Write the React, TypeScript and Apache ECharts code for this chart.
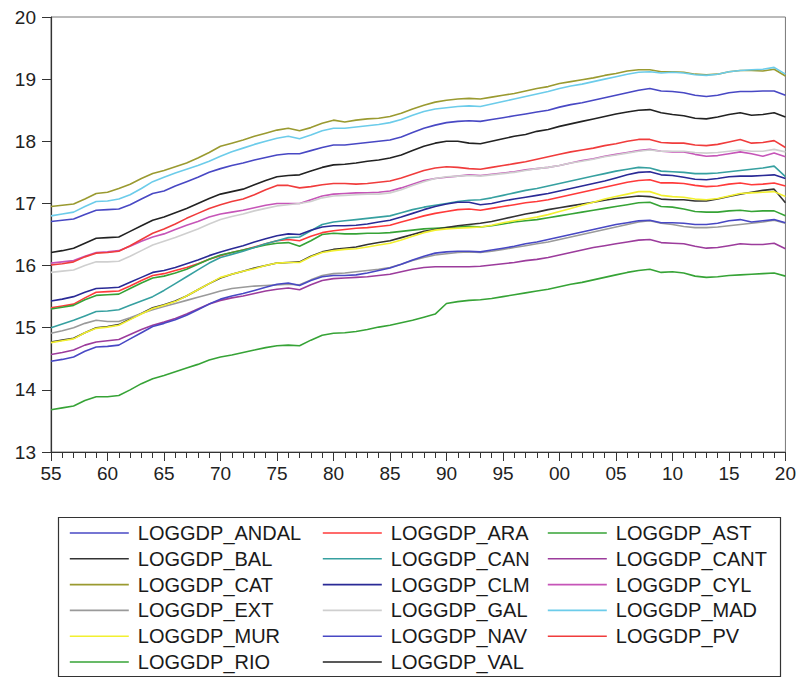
import React, { useEffect, useRef } from "react";
import * as echarts from "echarts";

const years: number[] = Array.from({ length: 66 }, (_, i) => 1955 + i);

const ANDAL = [
  16.71, 16.73, 16.75, 16.82, 16.89, 16.9, 16.91, 16.98, 17.07, 17.16,
  17.2, 17.28, 17.35, 17.42, 17.5, 17.56, 17.61, 17.65, 17.7, 17.74,
  17.78, 17.8, 17.8, 17.85, 17.9, 17.94, 17.94, 17.96, 17.98, 18.0,
  18.02, 18.07, 18.14, 18.21, 18.26, 18.3, 18.32, 18.33, 18.32, 18.35,
  18.38, 18.41, 18.44, 18.47, 18.5, 18.55, 18.59, 18.62, 18.66, 18.7,
  18.74, 18.78, 18.82, 18.85, 18.81, 18.8, 18.78, 18.74, 18.72, 18.74,
  18.78, 18.8, 18.8, 18.81, 18.81, 18.74,
];
const ARA = [
  15.32, 15.35, 15.38, 15.48, 15.57, 15.58, 15.59, 15.67, 15.76, 15.84,
  15.87, 15.92, 15.97, 16.03, 16.1, 16.16, 16.21, 16.25, 16.3, 16.35,
  16.4, 16.42, 16.4, 16.47, 16.53, 16.56, 16.58, 16.6, 16.61, 16.63,
  16.65, 16.7, 16.75, 16.8, 16.84, 16.87, 16.9, 16.91, 16.89, 16.92,
  16.95, 16.98, 17.01, 17.03, 17.06, 17.1, 17.14, 17.18, 17.22, 17.26,
  17.3, 17.34, 17.37, 17.38, 17.33, 17.33, 17.32, 17.29, 17.27, 17.28,
  17.31, 17.33, 17.3, 17.31, 17.33, 17.28,
];
const AST = [
  15.3, 15.33, 15.36, 15.45, 15.52, 15.53, 15.54, 15.63, 15.72, 15.8,
  15.83, 15.88, 15.94, 16.02, 16.1, 16.17, 16.21, 16.25, 16.29, 16.33,
  16.36, 16.37, 16.31, 16.4, 16.5, 16.52, 16.51, 16.51, 16.52, 16.52,
  16.53, 16.55, 16.57, 16.59, 16.6, 16.61, 16.62, 16.63, 16.62, 16.64,
  16.67, 16.7, 16.72, 16.74, 16.77, 16.8, 16.83, 16.86, 16.89, 16.92,
  16.95, 16.98, 17.01, 17.02, 16.95, 16.94, 16.91, 16.87, 16.86, 16.86,
  16.88, 16.89, 16.87, 16.88, 16.88, 16.8,
];
const BAL = [
  14.77, 14.8, 14.83, 14.92, 15.0, 15.02, 15.05, 15.14, 15.23, 15.32,
  15.37, 15.43, 15.51, 15.61, 15.71, 15.8, 15.86, 15.91, 15.96, 16.0,
  16.04, 16.05, 16.06, 16.15, 16.22, 16.26, 16.28, 16.3, 16.34, 16.37,
  16.4, 16.45, 16.5, 16.55, 16.58, 16.61, 16.64, 16.66, 16.68, 16.71,
  16.75, 16.79, 16.83, 16.86, 16.9, 16.93, 16.96, 16.99, 17.02, 17.05,
  17.08, 17.1, 17.12, 17.11, 17.07, 17.06, 17.06, 17.04, 17.04, 17.07,
  17.11, 17.15, 17.18, 17.21, 17.23, 17.01,
];
const CAN = [
  15.0, 15.06, 15.12, 15.19, 15.26, 15.27, 15.29, 15.36, 15.43, 15.5,
  15.6, 15.71, 15.82, 15.93, 16.04, 16.13, 16.18, 16.23, 16.29, 16.35,
  16.4, 16.45, 16.46, 16.56, 16.66, 16.7, 16.72, 16.74, 16.76, 16.78,
  16.8, 16.85, 16.9, 16.94, 16.97, 17.0, 17.03, 17.05, 17.06, 17.09,
  17.13, 17.17, 17.21, 17.24, 17.28, 17.32, 17.36, 17.4, 17.44, 17.48,
  17.52, 17.55, 17.58, 17.57, 17.52, 17.51, 17.5, 17.48, 17.48, 17.49,
  17.51, 17.53, 17.55, 17.57, 17.6, 17.43,
];
const CANT = [
  14.57, 14.6, 14.64, 14.72, 14.77, 14.79, 14.81, 14.89, 14.97, 15.04,
  15.09, 15.15, 15.22, 15.3, 15.38, 15.44, 15.48, 15.51, 15.55, 15.59,
  15.62, 15.64, 15.61, 15.69, 15.76, 15.79, 15.8, 15.81, 15.82, 15.84,
  15.86, 15.9, 15.94, 15.97, 15.98, 15.98, 15.98, 15.98, 15.99, 16.01,
  16.03, 16.05, 16.08, 16.1, 16.13, 16.17, 16.21, 16.25, 16.29, 16.32,
  16.35, 16.38, 16.41, 16.42, 16.37, 16.36, 16.35, 16.31, 16.28, 16.29,
  16.32, 16.35, 16.34, 16.34, 16.36, 16.27,
];
const CAT = [
  16.95, 16.97, 16.99, 17.07, 17.16, 17.18, 17.24, 17.31, 17.4, 17.48,
  17.53, 17.59, 17.65, 17.73, 17.82, 17.92, 17.97, 18.02, 18.08, 18.13,
  18.18, 18.21, 18.17, 18.22, 18.29, 18.34, 18.31, 18.34, 18.36, 18.37,
  18.4, 18.45, 18.52, 18.58, 18.63, 18.66, 18.68, 18.69, 18.68, 18.71,
  18.74, 18.77, 18.81, 18.85, 18.88, 18.93, 18.96, 18.99, 19.02, 19.06,
  19.09, 19.13, 19.15, 19.15, 19.12, 19.12, 19.11, 19.08, 19.07, 19.08,
  19.12, 19.14, 19.14, 19.13, 19.16, 19.05,
];
const CLM = [
  15.43, 15.46, 15.5, 15.57, 15.63, 15.64, 15.65, 15.73, 15.81, 15.89,
  15.92, 15.97, 16.03, 16.09, 16.16, 16.22, 16.27, 16.32, 16.38, 16.43,
  16.48, 16.51, 16.5, 16.57, 16.62, 16.64, 16.64, 16.65, 16.67, 16.7,
  16.73, 16.78, 16.84, 16.9, 16.95, 16.99, 17.02, 17.02, 16.98, 17.0,
  17.04, 17.07, 17.1, 17.13, 17.16, 17.2, 17.24, 17.28, 17.32, 17.36,
  17.41, 17.46, 17.5, 17.51, 17.46, 17.45, 17.42, 17.39, 17.38, 17.4,
  17.43, 17.44, 17.44, 17.45, 17.46, 17.4,
];
const CYL = [
  16.04, 16.06, 16.08, 16.15, 16.21, 16.22, 16.24, 16.31, 16.39, 16.46,
  16.51, 16.58, 16.65, 16.71, 16.78, 16.83, 16.86, 16.89, 16.93, 16.97,
  17.0, 17.0, 17.0, 17.06, 17.12, 17.15, 17.16, 17.17, 17.17, 17.18,
  17.2, 17.25, 17.31, 17.37, 17.4, 17.42, 17.44, 17.46, 17.45, 17.47,
  17.49, 17.51, 17.54, 17.56, 17.58, 17.61, 17.65, 17.69, 17.72, 17.76,
  17.79, 17.82, 17.85, 17.87, 17.84, 17.83, 17.83, 17.79, 17.76, 17.77,
  17.8, 17.83, 17.8, 17.76, 17.81, 17.75,
];
const EXT = [
  14.91, 14.95, 15.0, 15.07, 15.12, 15.1, 15.1, 15.16, 15.23, 15.29,
  15.34, 15.39, 15.44, 15.49, 15.54, 15.59, 15.63, 15.65, 15.67, 15.68,
  15.69, 15.7, 15.69, 15.77, 15.84, 15.87, 15.88, 15.9, 15.92, 15.94,
  15.97, 16.02, 16.08, 16.13, 16.17, 16.19, 16.21, 16.22, 16.21, 16.23,
  16.26, 16.29, 16.32, 16.35, 16.38, 16.42, 16.46, 16.5, 16.54, 16.58,
  16.62, 16.66, 16.7, 16.72, 16.68, 16.66, 16.63, 16.61, 16.61, 16.62,
  16.64, 16.66, 16.68, 16.7, 16.73, 16.68,
];
const GAL = [
  15.89, 15.91, 15.93, 16.0, 16.06, 16.06, 16.07, 16.15, 16.24, 16.33,
  16.39, 16.45, 16.52, 16.59, 16.67, 16.74, 16.79, 16.83, 16.88, 16.92,
  16.96, 16.98, 17.0, 17.03, 17.09, 17.12, 17.13, 17.14, 17.15, 17.15,
  17.17, 17.22, 17.29, 17.35, 17.4, 17.43, 17.44, 17.45, 17.44, 17.46,
  17.48, 17.5, 17.53, 17.56, 17.58, 17.61, 17.65, 17.68, 17.71, 17.75,
  17.78, 17.81, 17.84, 17.86, 17.84, 17.84, 17.84, 17.82, 17.81, 17.82,
  17.84, 17.86, 17.84, 17.84, 17.87, 17.83,
];
const MAD = [
  16.8, 16.83, 16.86, 16.95, 17.03, 17.04, 17.07, 17.14, 17.24, 17.35,
  17.42, 17.49, 17.55, 17.61, 17.68, 17.76, 17.83, 17.89, 17.95, 18.0,
  18.05, 18.08, 18.04, 18.1, 18.17, 18.21, 18.21, 18.23, 18.25, 18.27,
  18.3, 18.35, 18.42, 18.48, 18.52, 18.54, 18.56, 18.57, 18.56, 18.6,
  18.64, 18.68, 18.72, 18.76, 18.8, 18.85, 18.89, 18.92, 18.96, 19.0,
  19.04, 19.08, 19.11, 19.12, 19.1, 19.11, 19.1, 19.07, 19.06, 19.08,
  19.12, 19.14, 19.15, 19.16, 19.19, 19.08,
];
const MUR = [
  14.76, 14.79, 14.82, 14.92, 14.99, 15.01, 15.04, 15.13, 15.22, 15.31,
  15.36, 15.42, 15.51, 15.61, 15.71, 15.81, 15.86, 15.91, 15.95, 16.0,
  16.04, 16.05, 16.05, 16.14, 16.21, 16.24, 16.26, 16.27, 16.3, 16.33,
  16.36, 16.41, 16.47, 16.53, 16.57, 16.59, 16.6, 16.61, 16.62, 16.65,
  16.69, 16.72, 16.75, 16.78, 16.82, 16.87, 16.92, 16.97, 17.02, 17.07,
  17.11, 17.15, 17.19, 17.19, 17.13, 17.11, 17.1, 17.07, 17.06, 17.08,
  17.12, 17.16, 17.17, 17.18, 17.19, 17.11,
];
const NAV = [
  14.46, 14.49, 14.53, 14.62, 14.69, 14.7, 14.72, 14.82, 14.92, 15.02,
  15.07, 15.13, 15.2, 15.29, 15.38, 15.46, 15.51, 15.55, 15.6, 15.65,
  15.7, 15.72, 15.68, 15.76, 15.82, 15.84, 15.84, 15.85, 15.88, 15.92,
  15.96, 16.02, 16.09, 16.15, 16.2, 16.22, 16.23, 16.23, 16.22, 16.25,
  16.28, 16.31, 16.35, 16.38, 16.42, 16.46, 16.5, 16.54, 16.58, 16.62,
  16.66, 16.69, 16.72, 16.73, 16.69, 16.69, 16.68, 16.66, 16.66, 16.68,
  16.72, 16.74, 16.7, 16.72, 16.74, 16.69,
];
const PV = [
  16.01, 16.03, 16.06, 16.14, 16.2, 16.21, 16.23, 16.32, 16.42, 16.52,
  16.59, 16.67, 16.76, 16.84, 16.92, 16.98, 17.03, 17.07, 17.14, 17.22,
  17.29, 17.29, 17.25, 17.27, 17.3, 17.32, 17.32, 17.31, 17.32, 17.34,
  17.36, 17.41, 17.47, 17.53, 17.57, 17.59, 17.58, 17.56, 17.55, 17.58,
  17.61, 17.64, 17.67, 17.71, 17.75, 17.79, 17.83, 17.86, 17.89, 17.93,
  17.96, 18.0, 18.03, 18.03, 17.98, 17.97, 17.97, 17.94, 17.93, 17.95,
  17.99, 18.03, 17.97, 17.98, 18.01, 17.9,
];
const RIO = [
  13.68, 13.71, 13.74, 13.83, 13.89, 13.89, 13.91, 14.0, 14.1, 14.18,
  14.23, 14.29, 14.35, 14.41, 14.48, 14.53, 14.56, 14.6, 14.64, 14.68,
  14.71, 14.72, 14.71, 14.8, 14.88, 14.91, 14.92, 14.94, 14.97, 15.01,
  15.04, 15.08, 15.12, 15.17, 15.22, 15.39, 15.42, 15.44, 15.45, 15.47,
  15.5, 15.53, 15.56, 15.59, 15.62, 15.66, 15.7, 15.73, 15.77, 15.81,
  15.85, 15.89, 15.92, 15.94, 15.89, 15.9, 15.88, 15.83, 15.81, 15.82,
  15.84, 15.85, 15.86, 15.87, 15.88, 15.83,
];
const VAL = [
  16.21, 16.24, 16.28, 16.36, 16.44, 16.45, 16.46, 16.55, 16.64, 16.73,
  16.78, 16.85, 16.92, 17.0, 17.08, 17.15, 17.19, 17.23, 17.3, 17.37,
  17.43, 17.45, 17.46, 17.52, 17.58, 17.62, 17.63, 17.65, 17.68, 17.7,
  17.73, 17.78, 17.85, 17.92, 17.97, 18.0, 18.0, 17.97, 17.96, 18.0,
  18.04, 18.08, 18.11, 18.16, 18.19, 18.24, 18.28, 18.32, 18.36, 18.4,
  18.44, 18.47, 18.5, 18.51, 18.46, 18.43, 18.41, 18.37, 18.36, 18.39,
  18.43, 18.46, 18.42, 18.43, 18.46, 18.39,
];

const seriesNames = [
  "LOGGDP_ANDAL", "LOGGDP_ARA", "LOGGDP_AST", "LOGGDP_BAL", "LOGGDP_CAN",
  "LOGGDP_CANT", "LOGGDP_CAT", "LOGGDP_CLM", "LOGGDP_CYL", "LOGGDP_EXT",
  "LOGGDP_GAL", "LOGGDP_MAD", "LOGGDP_MUR", "LOGGDP_NAV", "LOGGDP_PV",
  "LOGGDP_RIO", "LOGGDP_VAL",
];
const seriesValues = [
  ANDAL, ARA, AST, BAL, CAN, CANT, CAT, CLM, CYL, EXT, GAL, MAD, MUR, NAV, PV, RIO, VAL,
];
const seriesColors = [
  "#4848c4", "#ff3a3a", "#36a336", "#333333", "#36a0a0",
  "#9c3c9c", "#9a9a30", "#2a2a96", "#c655b8", "#9a9a9a",
  "#cfcfcf", "#6cccea", "#f2f030", "#4848c4", "#f03c3c",
  "#36a336", "#222222",
];

const FONT = "'Liberation Sans', Arial, sans-serif";

export default function App() {
  const ref = useRef<HTMLDivElement>(null);
  useEffect(() => {
    if (!ref.current) return;
    const chart = echarts.init(ref.current, null, { renderer: "svg" });
    const series = seriesNames.map((name, i) => ({
      name,
      type: "line",
      data: years.map((y, j) => [y, seriesValues[i][j]]),
      showSymbol: false,
      symbol: "none",
      lineStyle: { width: 1.6, color: seriesColors[i] },
      itemStyle: { color: seriesColors[i] },
      emphasis: { disabled: true },
    }));
    const legendBase = {
      orient: "vertical",
      top: 523,
      padding: 0,
      itemWidth: 59,
      itemHeight: 14,
      itemGap: 5.8,
      selectedMode: false,
      itemStyle: { opacity: 0 },
      lineStyle: { width: 1.6 },
      textStyle: {
        fontSize: 20,
        lineHeight: 20,
        color: "#1a1a1a",
        fontFamily: FONT,
        padding: [0, 0, 0, 4],
      },
    };
    chart.setOption({
      animation: false,
      backgroundColor: "#ffffff",
      grid: {
        left: 51,
        top: 17,
        width: 737,
        height: 435,
        show: true,
        borderColor: "#777",
        borderWidth: 1,
        backgroundColor: "transparent",
      },
      xAxis: {
        type: "value",
        min: 1955,
        max: 2020,
        interval: 5,
        axisLine: { show: true, lineStyle: { color: "#333", width: 1.2 } },
        axisTick: { show: true, length: 9, lineStyle: { color: "#333" } },
        minorTick: { show: true, splitNumber: 5, length: 6, lineStyle: { color: "#333" } },
        splitLine: { show: false },
        axisLabel: {
          fontSize: 19,
          color: "#222",
          fontFamily: FONT,
          margin: 12,
          formatter: (v: number) => String(v % 100).padStart(2, "0"),
        },
      },
      yAxis: {
        type: "value",
        min: 13,
        max: 20,
        interval: 1,
        axisLine: { show: true, lineStyle: { color: "#333", width: 1.2 } },
        axisTick: { show: true, length: 9, lineStyle: { color: "#333" } },
        splitLine: { show: false },
        axisLabel: {
          fontSize: 19,
          color: "#222",
          fontFamily: FONT,
          margin: 15,
        },
      },
      legend: [
        { ...legendBase, left: 69, data: ["LOGGDP_ANDAL", "LOGGDP_BAL", "LOGGDP_CAT", "LOGGDP_EXT", "LOGGDP_MUR", "LOGGDP_RIO"] },
        { ...legendBase, left: 322, data: ["LOGGDP_ARA", "LOGGDP_CAN", "LOGGDP_CLM", "LOGGDP_GAL", "LOGGDP_NAV", "LOGGDP_VAL"] },
        { ...legendBase, left: 547, data: ["LOGGDP_AST", "LOGGDP_CANT", "LOGGDP_CYL", "LOGGDP_MAD", "LOGGDP_PV"] },
      ],
      graphic: [
        {
          type: "rect",
          shape: { x: 58.5, y: 517.5, width: 722, height: 159 },
          style: { fill: "none", stroke: "#333", lineWidth: 1.2 },
          silent: true,
        },
      ],
      series,
    });
    return () => chart.dispose();
  }, []);
  return (
    <div
      ref={ref}
      style={{ position: "absolute", left: 0, top: 0, width: 799, height: 678 }}
    />
  );
}
